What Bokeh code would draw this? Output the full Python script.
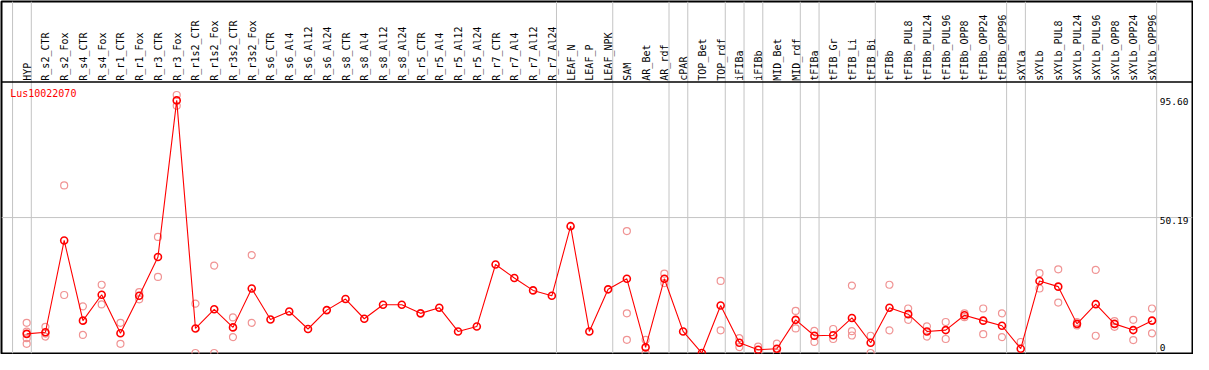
import math
from bokeh.plotting import figure
from bokeh.models import Range1d, Span, Label, ColumnDataSource
from bokeh.core.properties import value
from bokeh.embed import file_html
from bokeh.resources import INLINE

gene = "Lus10022070"

categories = [
    "HYP",
    "R_s2_CTR", "R_s2_Fox", "R_s4_CTR", "R_s4_Fox", "R_r1_CTR", "R_r1_Fox",
    "R_r3_CTR", "R_r3_Fox", "R_r1s2_CTR", "R_r1s2_Fox", "R_r3s2_CTR", "R_r3s2_Fox",
    "R_s6_CTR", "R_s6_Al4", "R_s6_Al12", "R_s6_Al24", "R_s8_CTR", "R_s8_Al4",
    "R_s8_Al12", "R_s8_Al24", "R_r5_CTR", "R_r5_Al4", "R_r5_Al12", "R_r5_Al24",
    "R_r7_CTR", "R_r7_Al4", "R_r7_Al12", "R_r7_Al24",
    "LEAF_N", "LEAF_P", "LEAF_NPK",
    "SAM", "AR_Bet", "AR_rdf",
    "cPAR",
    "TOP_Bet", "TOP_rdf",
    "iFIBa",
    "iFIBb",
    "MID_Bet", "MID_rdf",
    "tFIBa",
    "tFIB_Gr", "tFIB_Li", "tFIB_Bi",
    "tFIBb", "tFIBb_PUL8", "tFIBb_PUL24", "tFIBb_PUL96", "tFIBb_OPP8", "tFIBb_OPP24", "tFIBb_OPP96",
    "sXYLa",
    "sXYLb", "sXYLb_PUL8", "sXYLb_PUL24", "sXYLb_PUL96", "sXYLb_OPP8", "sXYLb_OPP24", "sXYLb_OPP96",
]

# number of consecutive categories in each tissue group
group_sizes = [1, 28, 3, 3, 1, 2, 1, 1, 2, 1, 3, 7, 1, 7]

means = [
    7.1,
    7.7, 41.7, 12.0, 21.6, 7.3, 21.2,
    35.6, 93.6, 9.1, 16.2, 9.5, 23.9,
    12.4, 15.4, 8.9, 15.9, 20.0, 12.7,
    17.9, 17.9, 14.7, 16.8, 8.0, 9.8,
    32.8, 27.8, 23.2, 21.2,
    47.0, 8.0, 23.6,
    27.5, 2.1, 27.5,
    8.0,
    0.0, 17.6,
    3.8,
    1.2,
    1.6, 12.3,
    6.4,
    6.6, 13.0, 3.8,
    16.8, 14.4, 8.0, 8.5, 14.0, 12.0, 10.1,
    1.6,
    26.7, 24.6, 10.8, 18.1, 10.8, 8.5, 12.0,
]

replicates = [
    [11.2, 7.9, 5.5, 3.4],
    [9.7, 7.2, 6.1], [62.1, 21.5], [17.3, 6.7], [25.3, 18.0], [11.2, 3.4], [22.6, 19.9],
    [43.0, 28.2], [95.6, 91.6], [18.3, 0.0], [32.4, 0.0], [13.2, 5.9], [36.3, 11.2],
    [], [], [], [], [], [],
    [], [], [], [], [], [],
    [], [], [], [],
    [], [], [],
    [45.2, 14.7, 4.9], [4.9, 0.0], [29.4, 25.9],
    [],
    [], [26.7, 8.4],
    [5.5, 2.2],
    [2.4, 0.0],
    [3.5, 0.0], [15.6, 9.1],
    [8.2, 4.1],
    [8.9, 5.2], [25.0, 8.1, 6.5], [6.4, 0.0],
    [25.3, 8.4], [16.5, 12.3], [9.9, 6.1], [11.5, 5.2], [14.7, 13.3], [16.5, 7.0], [14.7, 5.9],
    [4.1],
    [29.6, 23.9], [31.0, 18.7], [11.5, 10.2], [30.8, 6.4], [11.8, 9.7], [12.3, 4.8], [16.5, 7.3],
]

# ---------------------------------------------------------------- layout
n = len(categories)
idx = list(range(n))
vmax = max(max(means), max(v for r in replicates for v in r))
top = vmax * 1.05
mid = top / 2.0

W, H = 1193, 354
PITCH = 19.0          # reference px per category
X0 = 26.0             # reference px of first category
PLOT_TOP = 85.0       # reference px of plot-area top
PLOT_H = 284.0        # reference px height of plot area
upp = top / PLOT_H    # data units per reference px


def rx(px):
    return (px - X0) / PITCH


def ry(px):
    return top - (px - PLOT_TOP) * upp


p = figure(width=W, height=H, output_backend="svg", toolbar_location=None,
           x_range=Range1d(rx(0.5), rx(1207.0)),
           y_range=Range1d(ry(369.5), ry(0.5)),
           x_axis_location=None, y_axis_location=None, title=None,
           min_border_left=1, min_border_right=1, min_border_top=1, min_border_bottom=1)
p.grid.visible = False
p.outline_line_color = "black"
p.outline_line_width = 2
p.background_fill_color = "white"
p.border_fill_color = "white"

grid_col = "#c4c4c4"

# group separators
bounds = [-1]
acc = -1
for g in group_sizes:
    acc += g
    bounds.append(acc)
for b in bounds:
    p.add_layout(Span(location=b + 4.7 / PITCH, dimension="height",
                      line_color=grid_col, line_width=1, level="underlay"))

p.add_layout(Span(location=mid, dimension="width", line_color=grid_col,
                  line_width=1, level="underlay"))
p.add_layout(Span(location=top, dimension="width", line_color="black",
                  line_width=1.5))

# replicates
rep_x, rep_y = [], []
for i, r in enumerate(replicates):
    for v in r:
        rep_x.append(i)
        rep_y.append(v)
p.scatter(rep_x, rep_y, marker="circle", size=7, fill_color=None,
          line_color="#f09494", line_width=1.2)

# mean profile
p.line(idx, means, line_color="red", line_width=1.1)
p.scatter(idx, means, marker="circle", size=7, fill_color=None,
          line_color="red", line_width=1.6)

mono = value("DejaVu Sans Mono")

# column labels (vertical, in the header band)
src = ColumnDataSource(dict(x=[i + 0.5 / PITCH for i in idx],
                            y=[top + 1.5 * upp] * n,
                            t=categories))
p.text(x="x", y="y", text="t", source=src, angle=math.pi / 2,
       text_align="left", text_baseline="alphabetic",
       text_font=mono, text_font_size="10px", text_color="black")

# gene name
p.add_layout(Label(x=rx(9.3), y=ry(91.0), text=gene, text_font="DejaVu Sans Mono",
                   text_font_size="10px", text_color="red",
                   text_align="left", text_baseline="top"))

# value labels on the right
tick_vals = [vmax, mid, 0.0]
tick_text = [f"{vmax:.2f}", f"{mid:.2f}", "0"]
tick_base = ["top", "top", "bottom"]
tick_pad = [-2.8, 0.7, 2.0]   # reference px upward shift
for v, t, b, d in zip(tick_vals, tick_text, tick_base, tick_pad):
    p.add_layout(Label(x=rx(1178.0), y=v + d * upp, text=t,
                       text_font="DejaVu Sans Mono", text_font_size="9.5px",
                       text_color="black", text_align="left", text_baseline=b,
                       x_offset=-4))

open("out.html", "w").write(file_html(p, INLINE))
